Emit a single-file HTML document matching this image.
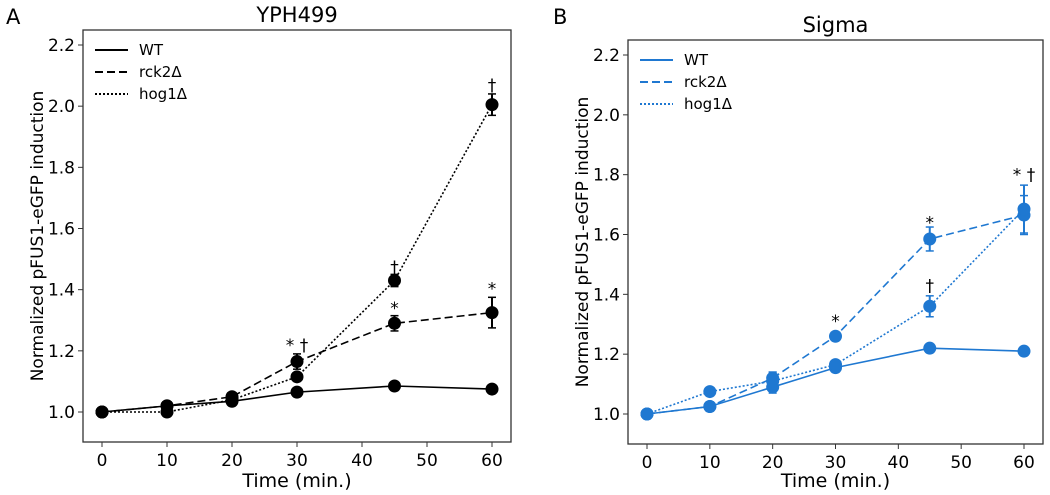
<!DOCTYPE html>
<html><head><meta charset="utf-8"><style>
body{margin:0;background:#fff;}
svg{display:block;font-family:"DejaVu Sans","Liberation Sans",sans-serif;}
</style></head><body>
<svg id="fig" width="1050" height="495"></svg>
<script>
const times=[0,10,20,30,45,60];
const yTicks=[1.0,1.2,1.4,1.6,1.8,2.0,2.2];
const xTicks=[0,10,20,30,40,50,60];
const aWT=[1.0,1.02,1.035,1.065,1.085,1.075];
const aWTerr=[0.005,0.008,0.01,0.01,0.012,0.01];
const aRck=[1.0,1.02,1.05,1.165,1.29,1.325];
const aRckErr=[0.005,0.01,0.01,0.025,0.025,0.05];
const aHog=[1.0,1.0,1.04,1.115,1.43,2.005];
const aHogErr=[0.005,0.008,0.01,0.01,0.02,0.035];
const bWT=[1.0,1.025,1.09,1.155,1.22,1.21];
const bWTerr=[0.005,0.015,0.02,0.01,0.01,0.01];
const bRck=[1.0,1.025,1.12,1.26,1.585,1.665];
const bRckErr=[0.005,0.01,0.02,0.01,0.04,0.065];
const bHog=[1.0,1.075,1.11,1.165,1.36,1.685];
const bHogErr=[0.005,0.008,0.03,0.01,0.035,0.08];
const aMarks=[[30,1.2,"* †"],[45,1.455,"†"],[45,1.32,"*"],[60,2.05,"†"],[60,1.385,"*"]];
const bMarks=[[30,1.29,"*"],[45,1.62,"*"],[45,1.41,"†"],[60,1.78,"* †"]];

const NS="http://www.w3.org/2000/svg";
const svg=document.getElementById('fig');
function mk(tag,at,parent){const e=document.createElementNS(NS,tag);for(const k in at)e.setAttribute(k,at[k]);(parent||svg).appendChild(e);return e;}

function panel(p){
  const g=mk('g',{});
  
  
  const sx=v=>p.x0+(v-0)*(p.x60-p.x0)/60;
  const sy=v=>p.y1-(v-1)*(p.y1-p.y22)/1.2;
  const fr=mk('rect',{x:p.L,y:p.T,width:p.R-p.L,height:p.B-p.T,fill:'none',stroke:'#333','stroke-width':1.3},g);
  
  yTicks.forEach(t=>{
    mk('line',{x1:p.L-5,x2:p.L,y1:sy(t),y2:sy(t),stroke:'#333'},g);
    const tx=mk('text',{x:p.L-8,y:sy(t)+6,'text-anchor':'end','font-size':17},g);
    tx.textContent=t.toFixed(1);
    
  });
  xTicks.forEach(t=>{
    mk('line',{x1:sx(t),x2:sx(t),y1:p.B,y2:p.B+5,stroke:'#333'},g);
    const tx=mk('text',{x:sx(t),y:p.B+24,'text-anchor':'middle','font-size':17},g);
    tx.textContent=t;
    
  });
  let t=mk('text',{x:(p.L+p.R)/2,y:487,'text-anchor':'middle','font-size':19},g);t.textContent='Time (min.)';
  
  t=mk('text',{x:0,y:0,'text-anchor':'middle','font-size':17,transform:`translate(${p.L-40},${(p.T+p.B)/2}) rotate(-90)`},g);t.textContent='Normalized pFUS1-eGFP induction';
  
  t=mk('text',{x:(p.L+p.R)/2,y:p.T-8,'text-anchor':'middle','font-size':21},g);t.textContent=p.title;
  
  t=mk('text',{x:p.letterX,y:24,'font-size':21},g);t.textContent=p.letter;
  
  const styles=[{d:'',n:'WT'},{d:'8,4',n:'rck2Δ'},{d:'2,2',n:'hog1Δ'}];
  p.series.forEach((s,i)=>{
    const sg=mk('g',{},g);
    
    
    const pts=times.map((tt,j)=>sx(tt)+','+sy(s.v[j])).join(' ');
    mk('polyline',{points:pts,fill:'none',stroke:p.c,'stroke-width':1.6,'stroke-dasharray':styles[i].d},sg);
    times.forEach((tt,j)=>{
      const x=sx(tt),y1=sy(s.v[j]+s.e[j]),y2=sy(s.v[j]-s.e[j]);
      mk('line',{x1:x,x2:x,y1:y1,y2:y2,stroke:p.c,'stroke-width':2},sg);
      mk('line',{x1:x-4,x2:x+4,y1:y1,y2:y1,stroke:p.c,'stroke-width':1.5},sg);
      mk('line',{x1:x-4,x2:x+4,y1:y2,y2:y2,stroke:p.c,'stroke-width':1.5},sg);
      const c=mk('circle',{cx:x,cy:sy(s.v[j]),r:6.5,fill:p.c},sg);
      
    });
    const ly=p.T+20+i*22;
    const le=mk('g',{},g);
    
    mk('line',{x1:p.L+12,x2:p.L+45,y1:ly,y2:ly,stroke:p.c,'stroke-width':2,'stroke-dasharray':styles[i].d},le);
    const lt=mk('text',{x:p.L+56,y:ly+5,'font-size':15},le);lt.textContent=styles[i].n;
  });
  p.marks.forEach(m=>{
    const a=mk('text',{x:sx(m[0]),y:sy(m[1]),'text-anchor':'middle','font-size':17},g);a.textContent=m[2];
    
  });
}
panel({name:'panel-a',L:83,R:511,T:30,B:442,x0:102,x60:492,y1:412,y22:45,c:'#000',title:'YPH499',letter:'A',letterX:6,
  series:[{v:aWT,e:aWTerr},{v:aRck,e:aRckErr},{v:aHog,e:aHogErr}],marks:aMarks});
panel({name:'panel-b',L:628,R:1043,T:40,B:444,x0:647,x60:1024,y1:414,y22:55,c:'#1f78d1',title:'Sigma',letter:'B',letterX:553,
  series:[{v:bWT,e:bWTerr},{v:bRck,e:bRckErr},{v:bHog,e:bHogErr}],marks:bMarks});
</script>
</body></html>
